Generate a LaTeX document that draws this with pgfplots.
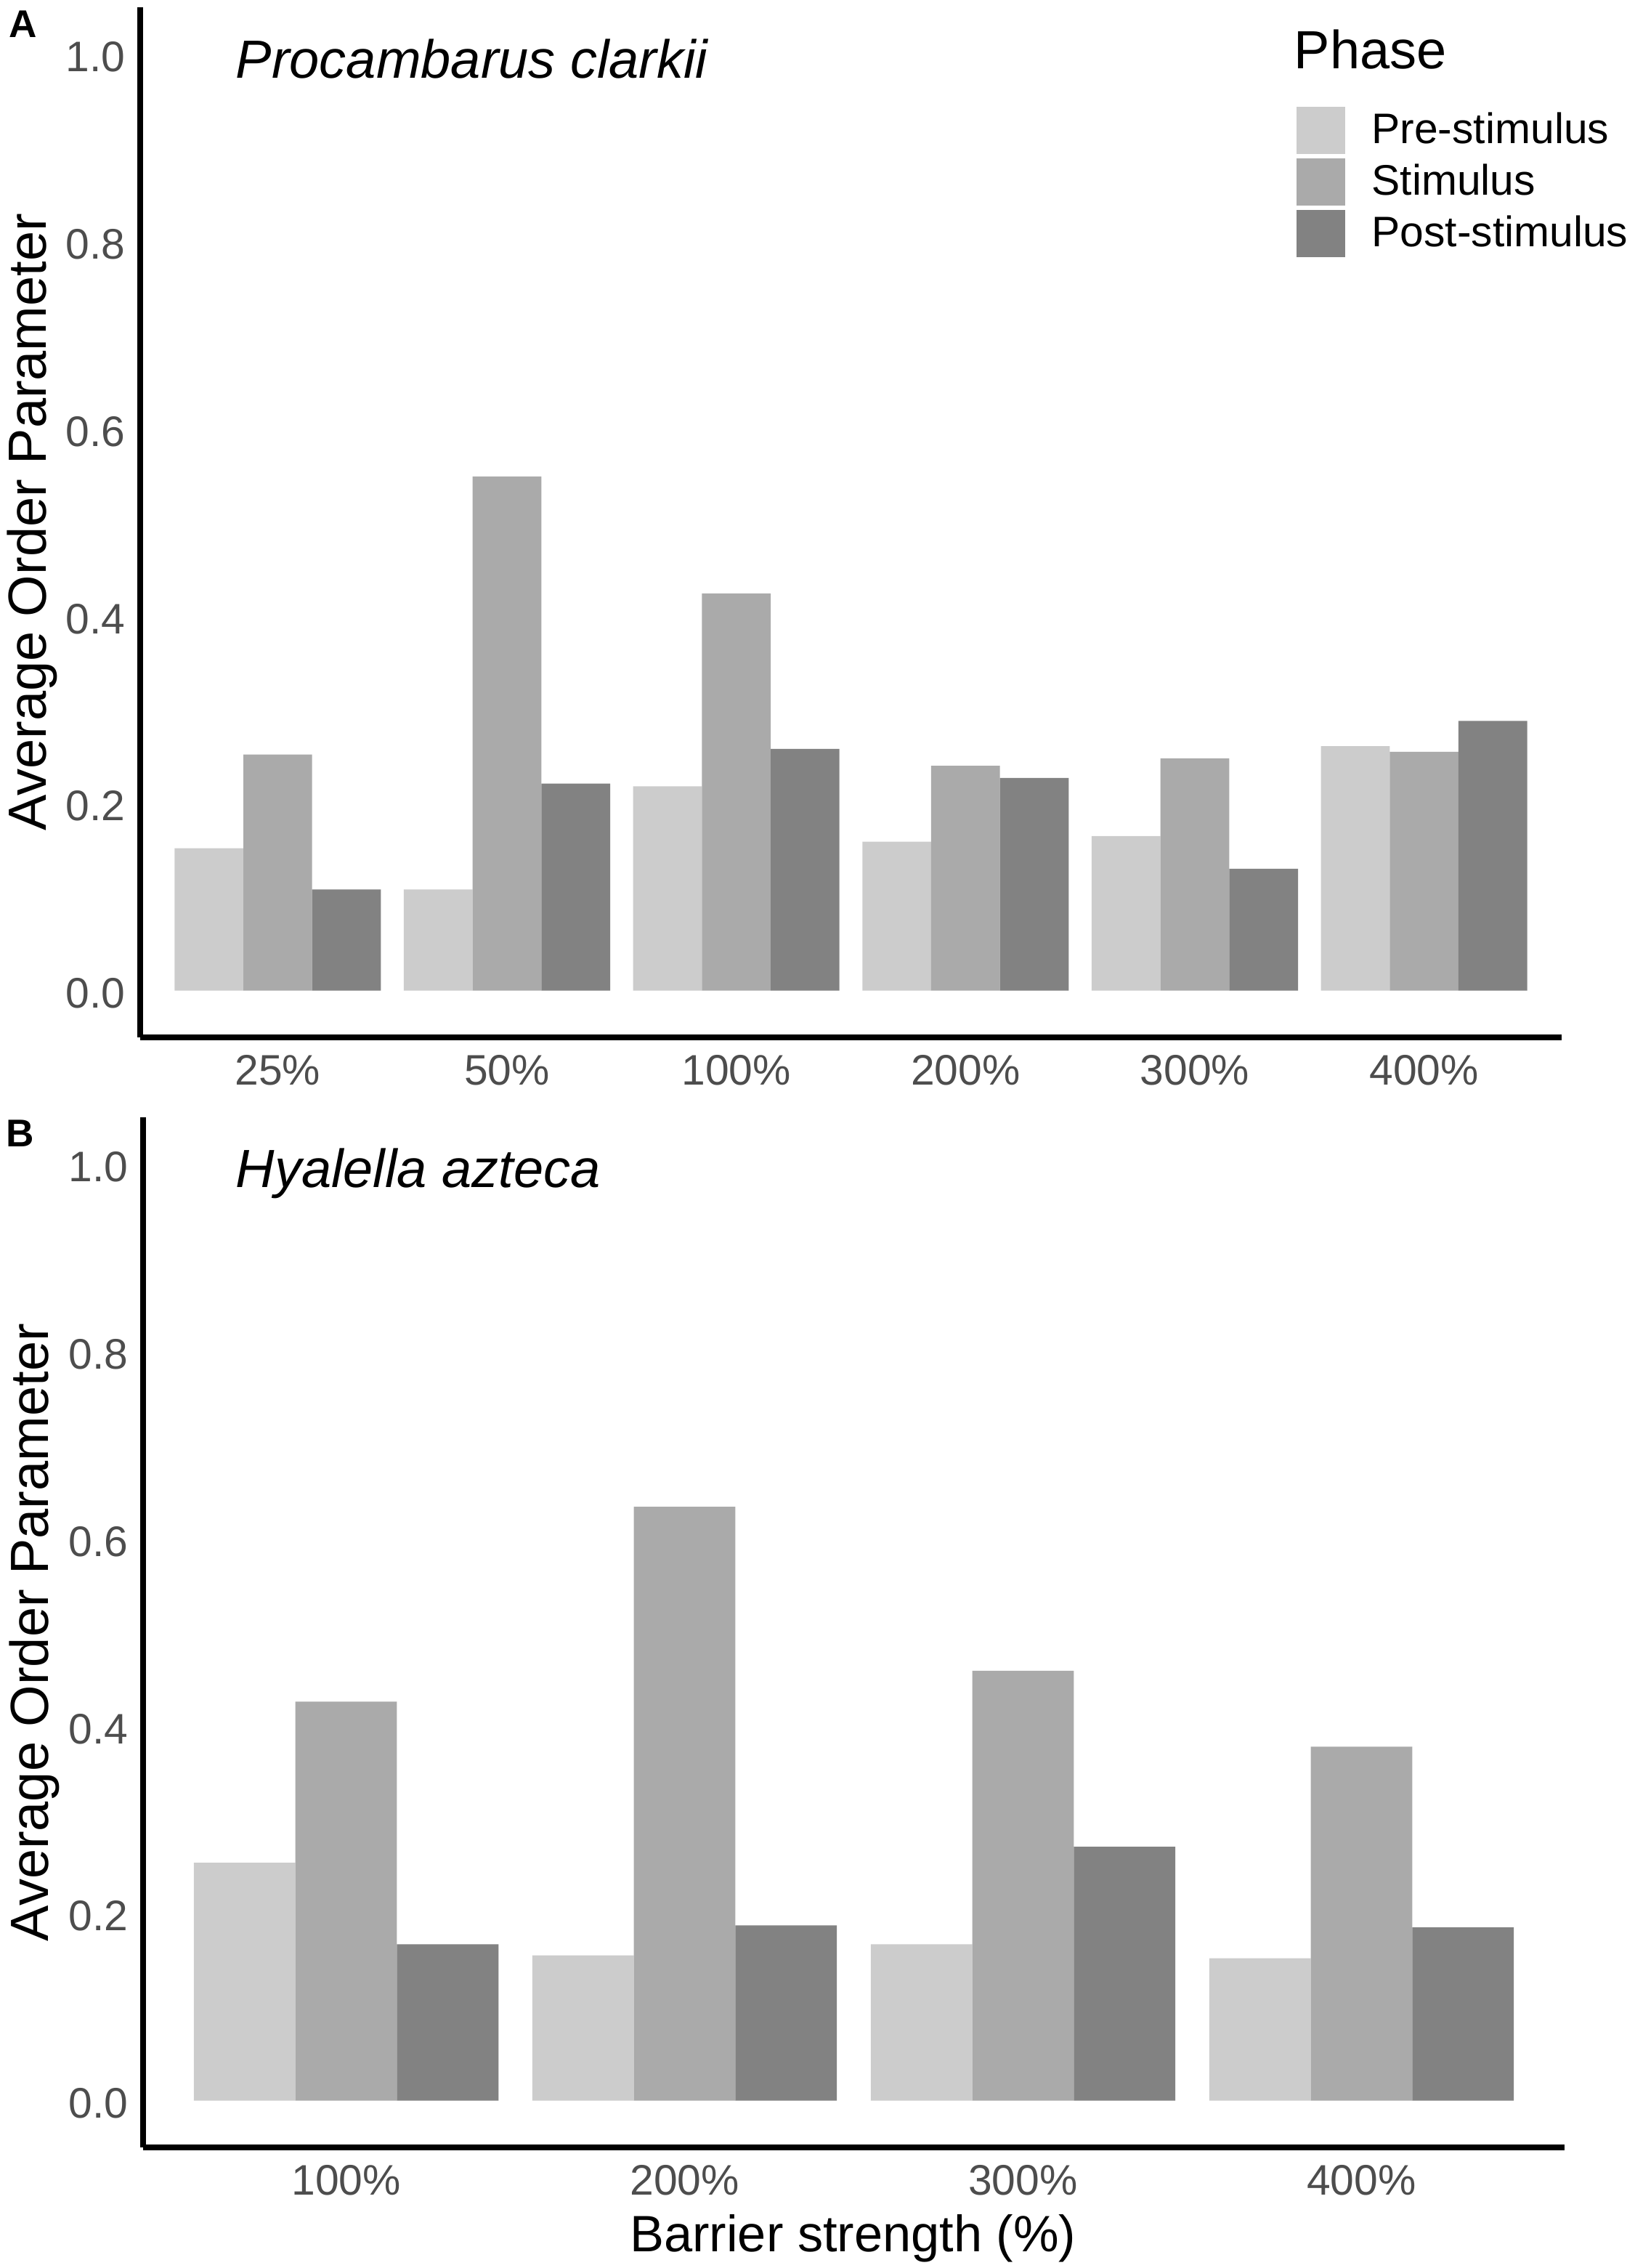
\documentclass[border=0pt]{standalone}
\usepackage{fontspec}
\setmainfont{Liberation Sans}
\usepackage{pgfplots}
\usepackage{pgfplotstable}
\pgfplotsset{compat=1.18}
\definecolor{preC}{HTML}{CCCCCC}
\definecolor{stimC}{HTML}{AAAAAA}
\definecolor{postC}{HTML}{828282}
\definecolor{tickC}{HTML}{4D4D4D}

\pgfplotstableread{
x pre stim post
1 0.152 0.252 0.108
2 0.108 0.549 0.221
3 0.218 0.424 0.258
4 0.159 0.240 0.227
5 0.165 0.248 0.130
6 0.261 0.255 0.288
}\tabA

\pgfplotstableread{
x pre stim post
1 0.254 0.426 0.167
2 0.155 0.634 0.187
3 0.167 0.459 0.271
4 0.152 0.378 0.185
}\tabB

\pgfplotsset{
  myaxis/.style={
    scale only axis,
    width=489.25pt, height=354.5pt,
    anchor=south west,
    axis lines=left,
    axis line style={-, line width=1.8pt, black},
    every outer x axis line/.append style={-},
    every outer y axis line/.append style={-},
    ymin=-0.05, ymax=1.05,
    ytick={0,0.2,0.4,0.6,0.8,1.0},
    yticklabels={0.0,0.2,0.4,0.6,0.8,1.0},
    major tick length=0pt,
    tick style={draw=none},
    yticklabel style={font=\fontsize{14.7}{17.6}\selectfont, text=tickC, anchor=east, inner sep=0pt, xshift=-4.9pt, yshift=-1pt},
    xticklabel style={font=\fontsize{14.7}{17.6}\selectfont, text=tickC, anchor=north, inner sep=0pt, yshift=-5.9pt},
    ybar, bar width=0.3,
  }
}

\begin{document}
\begin{tikzpicture}
\useasboundingbox (0,0) rectangle (562.5pt,780.5pt);

\begin{axis}[myaxis,
  at={(48.25pt,423.5pt)},
  xmin=0.4, xmax=6.6,
  xtick={1,2,3,4,5,6},
  xticklabels={25\%,50\%,100\%,200\%,300\%,400\%},
  legend image code/.code={\fill[#1] (0pt,-8.125pt) rectangle (16.75pt,8.125pt);},
  legend cell align=left,
  legend style={at={(0.8135,0.9035)}, anchor=north west, draw=none, fill=none,
    inner sep=0pt, outer sep=0pt, row sep=1.5pt, column sep=9.1pt,
    font=\fontsize{14.7}{17.6}\selectfont,
    nodes={inner sep=0pt, outer sep=0pt}, cells={anchor=west}},
]
\addplot[fill=preC, draw=none, bar shift=-0.3] table[x=x,y=pre]{\tabA};
\addplot[fill=stimC, draw=none, bar shift=0] table[x=x,y=stim]{\tabA};
\addplot[fill=postC, draw=none, bar shift=0.3] table[x=x,y=post]{\tabA};
\legend{Pre-stimulus,Stimulus,Post-stimulus}
\end{axis}

\begin{axis}[myaxis,
  at={(49.25pt,41.5pt)},
  xmin=0.4, xmax=4.6,
  xtick={1,2,3,4},
  xticklabels={100\%,200\%,300\%,400\%},
]
\addplot[fill=preC, draw=none, bar shift=-0.3] table[x=x,y=pre]{\tabB};
\addplot[fill=stimC, draw=none, bar shift=0] table[x=x,y=stim]{\tabB};
\addplot[fill=postC, draw=none, bar shift=0.3] table[x=x,y=post]{\tabB};
\end{axis}

\node[anchor=base, rotate=90, inner sep=0pt, font=\fontsize{18.5}{22}\selectfont] at (16pt,600.8pt) {Average Order Parameter};
\node[anchor=base, rotate=90, inner sep=0pt, font=\fontsize{18.5}{22}\selectfont] at (16.5pt,218.75pt) {Average Order Parameter};
\node[anchor=base, inner sep=0pt, font=\fontsize{17.6}{21}\selectfont] at (293.6pt,5.5pt) {Barrier strength (\%)};

\node[anchor=base west, inner sep=0pt, font=\fontsize{18.5}{22}\selectfont\itshape] at (81pt,753.5pt) {Procambarus clarkii};
\node[anchor=base west, inner sep=0pt, font=\fontsize{18.5}{22}\selectfont\itshape] at (81pt,371.9pt) {Hyalella azteca};

\node[anchor=base west, inner sep=0pt, font=\fontsize{18.5}{22}\selectfont] at (445.25pt,756.75pt) {Phase};

\node[anchor=base west, inner sep=0pt, font=\fontsize{13.3}{16}\selectfont\bfseries] at (3pt,767.6pt) {A};
\node[anchor=base west, inner sep=0pt, font=\fontsize{13.3}{16}\selectfont\bfseries] at (2pt,385.9pt) {B};
\end{tikzpicture}
\end{document}
